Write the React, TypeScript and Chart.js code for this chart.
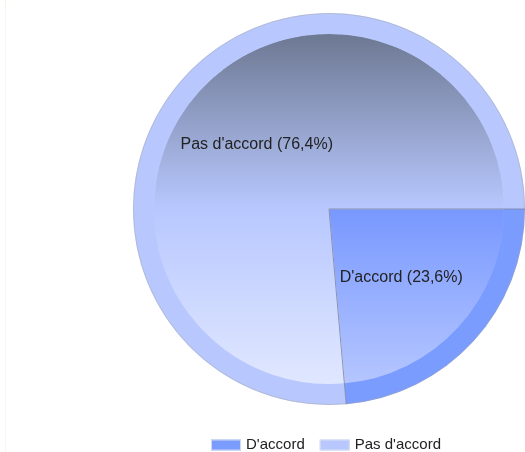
import React, { useEffect, useRef } from "react";
import { Chart, registerables } from "chart.js";

Chart.register(...registerables);

const categories = ["D'accord", "Pas d'accord"];
const values = [23.6, 76.4];
const percentLabels = ["23,6%", "76,4%"];
const rimColors = ["#7b9cff", "#b8c8ff"];
const legendColors = ["#7b9cff", "#b8c8ff"];

const RIM_WEIGHT = 21;
const INNER_WEIGHT = 175;
const LABEL_FONT = '16px "Liberation Sans", Arial, sans-serif';
const LEGEND_FONT = '15px "Liberation Sans", Arial, sans-serif';

function geom(chart: any) {
  const a = chart.chartArea;
  const cx = (a.left + a.right) / 2;
  const cy = (a.top + a.bottom) / 2;
  const R = Math.min(a.right - a.left, a.bottom - a.top) / 2;
  const r = (R * INNER_WEIGHT) / (INNER_WEIGHT + RIM_WEIGHT);
  return { cx, cy, R, r };
}

function innerFill(ctx: any) {
  const chart = ctx.chart;
  if (!chart.chartArea) return rimColors[ctx.dataIndex];
  const { cy, r } = geom(chart);
  const c = chart.ctx;
  if (ctx.dataIndex === 0) {
    const g = c.createLinearGradient(0, cy, 0, cy + r);
    g.addColorStop(0, "#7898ff");
    g.addColorStop(1, "#b5c6ff");
    return g;
  }
  const g = c.createLinearGradient(0, cy - r, 0, cy + r);
  g.addColorStop(0, "#6d7892");
  g.addColorStop(0.5, "#b8c8ff");
  g.addColorStop(1, "#e0e7ff");
  return g;
}

const overlay = {
  id: "overlay",
  afterDatasetsDraw(chart: any) {
    const c = chart.ctx;
    const meta = chart.getDatasetMeta(0);
    if (!meta.data.length) return;
    const first = meta.data[0];
    const cx = first.x;
    const cy = first.y;
    const R = first.outerRadius;
    c.save();
    // outer outline
    c.beginPath();
    c.arc(cx, cy, R - 0.5, 0, Math.PI * 2);
    c.strokeStyle = "rgba(170,165,150,0.4)";
    c.lineWidth = 1;
    c.stroke();
    // separators
    c.strokeStyle = "rgba(125,135,165,0.85)";
    c.lineWidth = 1;
    meta.data.forEach((arc: any) => {
      c.beginPath();
      c.moveTo(cx, cy);
      c.lineTo(cx + Math.cos(arc.startAngle) * R, cy + Math.sin(arc.startAngle) * R);
      c.stroke();
    });
    // slice labels
    c.font = LABEL_FONT;
    c.fillStyle = "#222222";
    c.textAlign = "center";
    c.textBaseline = "middle";
    meta.data.forEach((arc: any, i: number) => {
      const mid = (arc.startAngle + arc.endAngle) / 2;
      const lr = R * 0.5;
      c.fillText(
        `${categories[i]} (${percentLabels[i]})`,
        cx + Math.cos(mid) * lr,
        cy + Math.sin(mid) * lr + 2
      );
    });
    // legend
    c.font = LEGEND_FONT;
    const boxW = 30;
    const boxH = 11;
    const gap = 5;
    const itemGap = 15;
    const widths = categories.map((t) => c.measureText(t).width);
    let total = 0;
    widths.forEach((w, i) => {
      total += boxW + gap + w + (i < widths.length - 1 ? itemGap : 0);
    });
    let x = cx - 3 - total / 2;
    const ly = 445;
    c.textAlign = "left";
    categories.forEach((t, i) => {
      c.fillStyle = legendColors[i];
      c.fillRect(x, ly - boxH / 2, boxW, boxH);
      c.strokeStyle = "rgba(220,225,235,0.9)";
      c.lineWidth = 1;
      c.strokeRect(x + 0.5, ly - boxH / 2 + 0.5, boxW - 1, boxH - 1);
      x += boxW + gap;
      c.fillStyle = "#222222";
      c.fillText(t, x, ly);
      x += widths[i] + itemGap;
    });
    c.restore();
  },
};

export default function App() {
  const ref = useRef<HTMLCanvasElement>(null);
  useEffect(() => {
    const canvas = ref.current!;
    const chart = new Chart(canvas, {
      type: "pie",
      data: {
        labels: categories,
        datasets: [
          {
            data: values,
            backgroundColor: rimColors,
            borderWidth: 0,
            weight: RIM_WEIGHT,
          },
          {
            data: values,
            backgroundColor: innerFill as any,
            borderColor: innerFill as any,
            borderWidth: 1,
            weight: INNER_WEIGHT,
          },
        ],
      },
      options: {
        responsive: false,
        animation: false,
        events: [],
        rotation: 90,
        layout: { padding: { left: 133, right: 0, top: 13, bottom: 47 } },
        plugins: {
          legend: { display: false },
          tooltip: { enabled: false },
        },
      },
      plugins: [overlay],
    } as any);
    return () => chart.destroy();
  }, []);
  return (
    <div style={{ position: "absolute", left: 0, top: 0, width: 525, height: 452, background: "#ffffff" }}>
      <div
        style={{
          position: "absolute",
          left: 5,
          top: 0,
          height: 452,
          borderLeft: "1px dotted #e6f4de",
        }}
      />
      <canvas ref={ref} width={525} height={452} style={{ position: "absolute", left: 0, top: 0 }} />
    </div>
  );
}
